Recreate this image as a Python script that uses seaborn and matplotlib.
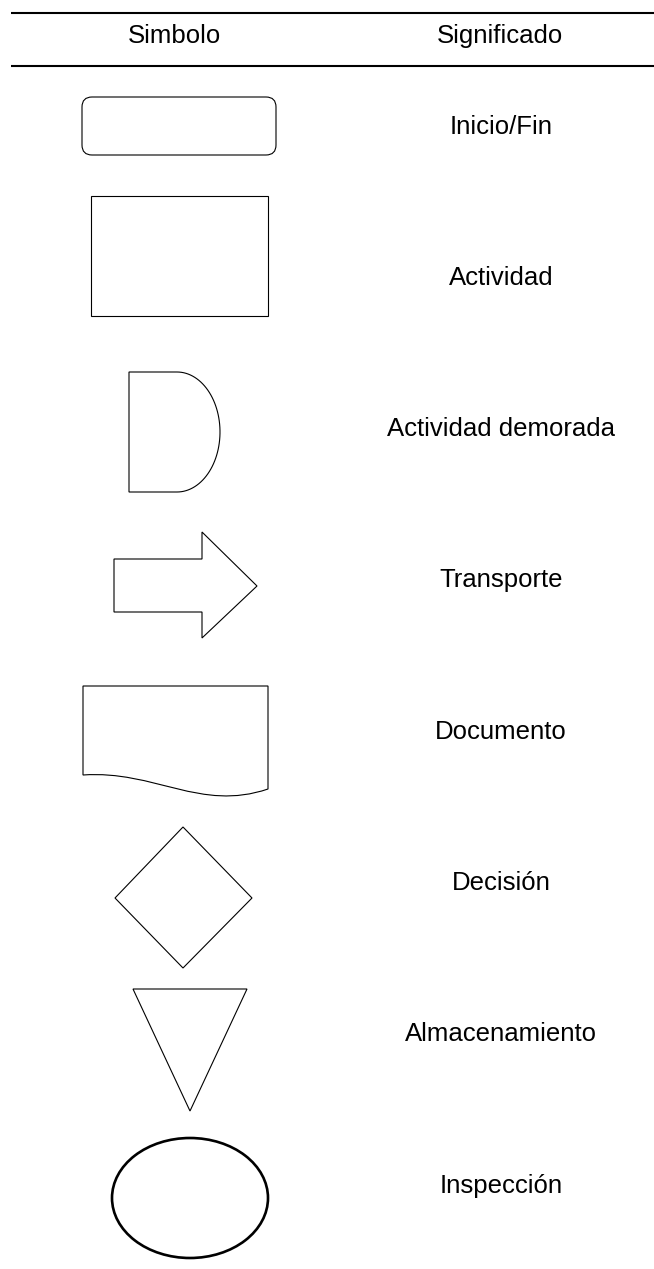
import numpy as np
import matplotlib
matplotlib.use("Agg")
import matplotlib.pyplot as plt
import matplotlib.patches as mpatches
from matplotlib.path import Path
import seaborn as sns

# table content
encabezados = ["Simbolo", "Significado"]
simbolos = ["inicio_fin", "actividad", "demora", "transporte",
            "documento", "decision", "almacenamiento", "inspeccion"]
significados = ["Inicio/Fin", "Actividad", "Actividad demorada", "Transporte",
                "Documento", "Decisión", "Almacenamiento", "Inspección"]

sns.set_theme(style="white")
plt.rcParams['font.family'] = ['Liberation Sans', 'DejaVu Sans']
plt.rcParams['text.color'] = 'black'

W, H = 654, 1269
fig = plt.figure(figsize=(W / 100, H / 100), dpi=100)
ax = fig.add_axes([0, 0, 1, 1])
ax.set_xlim(0, W)
ax.set_ylim(H, 0)
ax.axis('off')

lw = 0.8
kw = dict(fill=False, edgecolor='black', linewidth=lw, joinstyle='miter')
fs = 18.5


def draw_symbol(name):
    if name == "inicio_fin":
        p = mpatches.FancyBboxPatch((82, 97), 194, 58,
                                    boxstyle="round,pad=0,rounding_size=10", **kw)
    elif name == "actividad":
        p = mpatches.Rectangle((91, 196), 177, 120, **kw)
    elif name == "demora":
        # flat top, half ellipse on the right, flat bottom
        t = np.linspace(-np.pi / 2, np.pi / 2, 60)
        arc = np.column_stack([177 + 43 * np.cos(t), 432 + 60 * np.sin(t)])
        pts = np.vstack([[129, 372], arc, [129, 492]])
        p = mpatches.Polygon(pts, closed=True, **kw)
    elif name == "transporte":
        pts = [(114, 559), (202, 559), (202, 532), (257, 586),
               (202, 638), (202, 612), (114, 612)]
        p = mpatches.Polygon(pts, closed=True, **kw)
    elif name == "documento":
        verts = [(83, 686), (268, 686), (268, 789),
                 (200, 812), (155, 770), (83, 775), (83, 686)]
        codes = [Path.MOVETO, Path.LINETO, Path.LINETO,
                 Path.CURVE4, Path.CURVE4, Path.CURVE4, Path.CLOSEPOLY]
        p = mpatches.PathPatch(Path(verts, codes), **kw)
    elif name == "decision":
        pts = [(183, 827), (252, 898), (183, 968), (115, 898)]
        p = mpatches.Polygon(pts, closed=True, **kw)
    elif name == "almacenamiento":
        pts = [(133, 989), (247, 989), (190, 1111)]
        p = mpatches.Polygon(pts, closed=True, **kw)
    else:
        p = mpatches.Ellipse((190, 1198), 156, 120, fill=False,
                             edgecolor='black', linewidth=1.9)
    ax.add_patch(p)


# header rules
ax.plot([11, W], [13, 13], color='black', lw=1.5, solid_capstyle='butt')
ax.plot([11, W], [66, 66], color='black', lw=1.5, solid_capstyle='butt')
ax.text(174, 43, encabezados[0], ha='center', va='baseline', fontsize=fs)
ax.text(500, 43, encabezados[1], ha='center', va='baseline', fontsize=fs)

row_base = 133.5 + 151.3 * np.arange(len(significados))
for nombre, texto, y in zip(simbolos, significados, row_base):
    draw_symbol(nombre)
    ax.text(501, y, texto, ha='center', va='baseline', fontsize=fs)

fig.savefig("out.png", dpi=100)
